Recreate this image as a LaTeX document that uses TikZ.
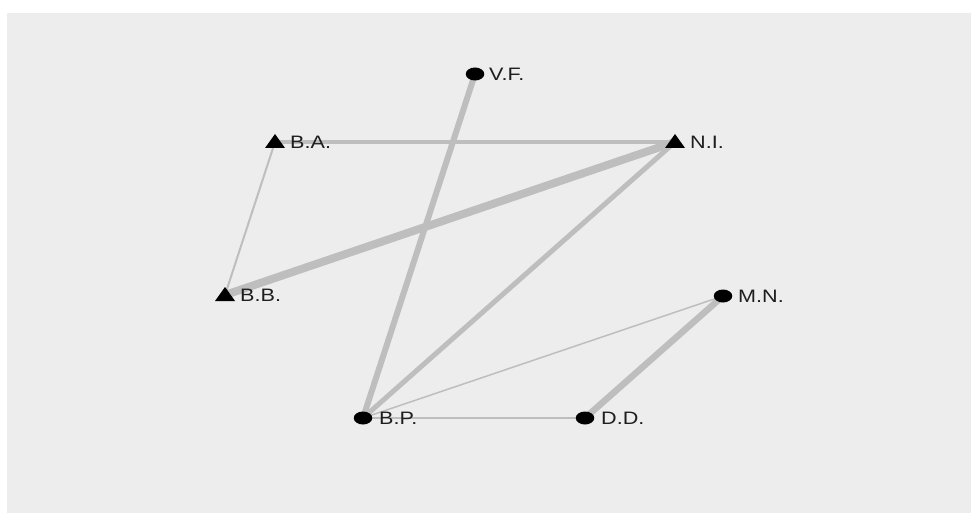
\documentclass[tikz,border=0pt]{standalone}
\usepackage{fontspec}
\setmainfont{Liberation Sans}
\definecolor{panel}{HTML}{EDEDED}
\definecolor{edgec}{HTML}{BEBEBE}
\definecolor{txt}{HTML}{1E1E1E}
\tikzset{
  edge/.style={draw=edgec, line cap=butt},
  circmark/.style={ellipse, fill=black, minimum width=18.5pt, minimum height=13pt, inner sep=0pt},
  trimark/.style={fill=black},
  lab/.style={anchor=west, inner sep=0pt, text=txt, font=\fontsize{18}{18}\selectfont}
}
\usetikzlibrary{shapes.geometric}
\begin{document}
\begin{tikzpicture}[x=1pt,y=-1pt]
\useasboundingbox (0,0) rectangle (971,513);
\fill[white] (0,0) rectangle (971,513);
\fill[panel] (7,13) rectangle (971,513);
% node centres
\coordinate (VF) at (475,74);
\coordinate (BA) at (275,142);
\coordinate (NI) at (675,142);
\coordinate (BB) at (225,295);
\coordinate (MN) at (723,296);
\coordinate (BP) at (363,418);
\coordinate (DD) at (585,418);
% edges
\draw[edge, line width=2pt] (BA) -- (BB);
\draw[edge, line width=4pt] (BA) -- (NI);
\draw[edge, line width=8pt] (BB) -- (NI);
\draw[edge, line width=5pt] (NI) -- (BP);
\draw[edge, line width=6pt] (VF) -- (BP);
\draw[edge, line width=1.5pt] (BP) -- (MN);
\draw[edge, line width=2pt] (BP) -- (DD);
\draw[edge, line width=6.5pt] (DD) -- (MN);
% markers
\node[circmark] (mVF) at (VF) {};
\node[circmark] (mMN) at (MN) {};
\node[circmark] (mBP) at (BP) {};
\node[circmark] (mDD) at (DD) {};
\fill[trimark] ([shift={(0,-8)}]BA) -- ([shift={(-10,6)}]BA) -- ([shift={(10,6)}]BA) -- cycle;
\fill[trimark] ([shift={(0,-8)}]NI) -- ([shift={(-10,6)}]NI) -- ([shift={(10,6)}]NI) -- cycle;
\fill[trimark] ([shift={(0,-8)}]BB) -- ([shift={(-10,6)}]BB) -- ([shift={(10,6)}]BB) -- cycle;
% labels
\node[lab] (lVF) at ([xshift=14]VF) {\scalebox{1.2}[1]{V.F.}};
\node[lab] (lBA) at ([xshift=15]BA) {\scalebox{1.2}[1]{B.A.}};
\node[lab] (lNI) at ([xshift=15]NI) {\scalebox{1.2}[1]{N.I.}};
\node[lab] (lBB) at ([xshift=15]BB) {\scalebox{1.2}[1]{B.B.}};
\node[lab] (lMN) at ([xshift=15]MN) {\scalebox{1.2}[1]{M.N.}};
\node[lab] (lBP) at ([xshift=16]BP) {\scalebox{1.2}[1]{B.P.}};
\node[lab] (lDD) at ([xshift=16]DD) {\scalebox{1.2}[1]{D.D.}};
\end{tikzpicture}
\end{document}
